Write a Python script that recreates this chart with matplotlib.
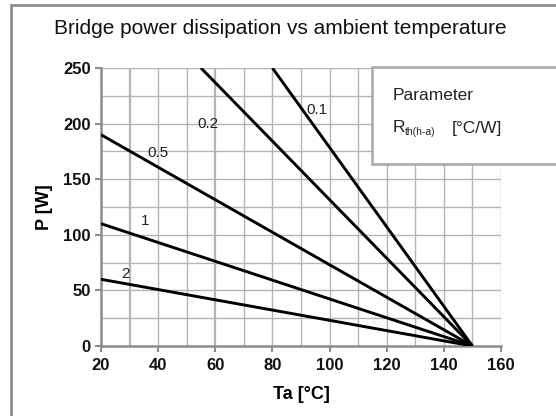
import matplotlib
matplotlib.use("Agg")
import matplotlib.pyplot as plt
from matplotlib.patches import Rectangle

plt.rcParams['font.family'] = ['Liberation Sans', 'DejaVu Sans']

# Data: thermal resistance parameter and line endpoints
rth_labels = ["0.1", "0.2", "0.5", "1", "2"]
ta_start = [80, 55, 20, 20, 20]
p_start = [250, 250, 190, 110, 60]
ta_end = [150, 150, 150, 150, 150]
p_end = [0, 0, 0, 0, 0]
label_x = [95.5, 57.5, 40, 35.5, 28.5]
label_y = [212, 200, 174, 112, 65]

x_ticks = [20, 40, 60, 80, 100, 120, 140, 160]
y_ticks = [0, 50, 100, 150, 200, 250]

fig = plt.figure(figsize=(5.56, 4.16), dpi=100)
ax = fig.add_axes([101/556, 1-346/416, 400/556, 278/416])

ax.set_xlim(20, 160)
ax.set_ylim(0, 250)

grid_c = '#b4b4b4'
for xv in range(30, 161, 10):
    ax.axvline(xv, color=grid_c, lw=1.6 if xv in (30, 60) else 1.0, zorder=1)
for yv in range(25, 251, 25):
    ax.axhline(yv, color=grid_c, lw=1.0, zorder=1)

for xs, ys, xe, ye in zip(ta_start, p_start, ta_end, p_end):
    ax.plot([xs, xe], [ys, ye], color='black', lw=2.1, zorder=3,
            solid_capstyle='butt')

for lab, lx, ly in zip(rth_labels, label_x, label_y):
    ax.text(lx, ly, lab, fontsize=11, color='#222222', ha='center', va='center',
            zorder=4)

for s in ['top', 'right']:
    ax.spines[s].set_visible(False)
for s in ['left', 'bottom']:
    ax.spines[s].set_color('#8c8c8c')
    ax.spines[s].set_linewidth(1.8)

ax.set_xticks(x_ticks)
ax.set_yticks(y_ticks)
ax.tick_params(axis='both', colors='#8c8c8c', length=4, width=1.5,
               labelcolor='#111111', labelsize=12)
ax.tick_params(axis='x', pad=5)
for t in ax.get_xticklabels() + ax.get_yticklabels():
    t.set_fontweight('bold')

ax.set_xlabel('Ta [°C]', fontsize=13, fontweight='bold', labelpad=9)
ax.set_ylabel('P [W]', fontsize=13, fontweight='bold', labelpad=7)

fig.text(280/556, 1-28/416, 'Bridge power dissipation vs ambient temperature',
         fontsize=15, ha='center', va='center', color='#111111')

# Parameter box
fig.patches.append(Rectangle((372/556, 1-164/416), 200/556, 97/416,
                             transform=fig.transFigure, facecolor='white',
                             edgecolor='#a8a8a8', lw=1.8, zorder=5))
fig.text(393/556, 1-95/416, 'Parameter', fontsize=12.5, ha='left', va='center',
         color='#222222', zorder=6)
fig.text(393/556, 1-128/416, 'R', fontsize=12.5, ha='left', va='center',
         color='#222222', zorder=6)
fig.text(405/556, 1-132/416, 'th(h-a)', fontsize=7.5, ha='left', va='center',
         color='#222222', zorder=6)
fig.text(452/556, 1-128/416, '[°C/W]', fontsize=12.5, ha='left', va='center',
         color='#222222', zorder=6)

# Outer frame (left and top edges visible)
fig.patches.append(Rectangle((11/556, -0.05), 1.0, 1 - 5/416 + 0.05,
                             transform=fig.transFigure, facecolor='none',
                             edgecolor='#8c8c8c', lw=2.0, zorder=0))

fig.savefig('out.png', dpi=100)
